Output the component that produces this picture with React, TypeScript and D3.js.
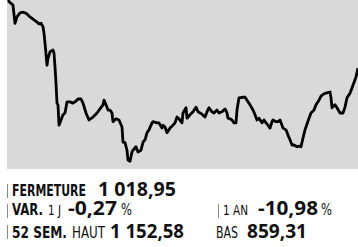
import * as d3 from 'd3';
import { useEffect, useRef } from 'react';

// séance (jours depuis le début de la période) et clôtures de l'indice
const days = [
  0, 1, 4, 5, 7, 9, 12, 15, 17, 19, 22, 25, 29, 31, 33, 35, 36, 37, 39, 40,
  42, 45, 46, 47, 48, 49, 50, 51, 55, 57, 59, 62, 65, 67, 69, 70, 73, 75, 78,
  81, 85, 89, 92, 95, 96, 98, 100, 102, 104, 105, 108, 111, 114, 115, 117,
  119, 120, 122, 124, 125, 128, 130, 133, 135, 137, 139, 141, 144, 145, 149,
  151, 154, 155, 157, 159, 162, 165, 167, 169, 171, 174, 175, 178, 179, 182,
  185, 188, 190, 194, 197, 199, 201, 204, 206, 209, 211, 214, 217, 219, 220,
  222, 224, 226, 228, 229, 231, 235, 237, 239, 242, 245, 247, 249, 251, 254,
  256, 258, 260, 262, 264, 265, 268, 270, 272, 274, 275, 278, 280, 282, 284,
  286, 289, 291, 293, 295, 297, 298, 301, 303, 306, 308, 311, 313, 316, 318,
  322, 323, 324, 327, 329, 332, 335, 337, 339, 342, 344, 347, 348, 350,
];
const closes = [
  1145, 1133, 1129, 1127, 1096, 1107, 1114, 1115, 1114, 1112, 1107, 1103,
  1098, 1095, 1096, 1090, 1079, 1062, 1024, 1036, 1047, 1050, 1045, 1021, 993,
  959, 956, 921, 939, 942, 961, 961, 959, 961, 964, 966, 966, 959, 942, 930,
  935, 942, 949, 956, 964, 956, 947, 947, 942, 927, 932, 930, 918, 892, 891,
  878, 861, 859, 875, 878, 884, 875, 878, 892, 896, 908, 913, 925, 927, 925,
  925, 916, 921, 918, 908, 916, 921, 925, 935, 932, 925, 942, 951, 933, 939,
  944, 952, 944, 940, 935, 944, 951, 944, 942, 947, 942, 944, 949, 942, 933,
  932, 930, 925, 925, 947, 968, 969, 969, 964, 956, 947, 939, 930, 933, 925,
  930, 925, 921, 916, 927, 930, 927, 927, 930, 921, 916, 913, 904, 896, 887,
  887, 884, 885, 884, 899, 913, 918, 933, 942, 947, 956, 964, 971, 975, 976,
  978, 968, 951, 956, 951, 942, 942, 952, 968, 976, 985, 999, 1004, 1018.95,
];

const close = 1018.95;
const var1d = -0.27;
const var1y = -10.98;
const high52 = 1152.58;
const low52 = 859.31;

const fr = d3.formatLocale({
  decimal: ',',
  thousands: '\u00a0',
  grouping: [3],
  currency: ['', ' €'],
  minus: '-',
});
const num = fr.format(',.2f');

const W = 358;
const H = 247;
const plot = { left: 7, top: 0, right: 358, bottom: 169 };

const labelFont = '"Liberation Sans Narrow", "DejaVu Sans Condensed", sans-serif';
const valueFont = '"Open Sans", "DejaVu Sans", sans-serif';

export default function App() {
  const ref = useRef<SVGSVGElement>(null);

  useEffect(() => {
    const svg = d3.select(ref.current);
    svg.selectAll('*').remove();

    const x = d3.scaleLinear().domain([0, 350]).range([8, plot.right]);
    const y = d3.scaleLinear().domain([845.8, 1136]).range([plot.bottom, plot.top]);

    svg
      .append('defs')
      .append('clipPath')
      .attr('id', 'plotClip')
      .append('rect')
      .attr('x', plot.left)
      .attr('y', plot.top)
      .attr('width', plot.right - plot.left)
      .attr('height', plot.bottom - plot.top);

    svg
      .append('rect')
      .attr('x', plot.left)
      .attr('y', plot.top)
      .attr('width', plot.right - plot.left)
      .attr('height', plot.bottom - plot.top)
      .style('fill', '#d9d9d9');

    const line = d3
      .line<number>()
      .x((_, i) => x(days[i]))
      .y((d) => y(d));

    svg
      .append('path')
      .datum(closes)
      .attr('clip-path', 'url(#plotClip)')
      .attr('d', line)
      .style('fill', 'none')
      .style('stroke', '#000')
      .style('stroke-width', 2.8)
      .style('stroke-linejoin', 'round');

    // petits séparateurs verticaux devant chaque ligne de chiffres
    const bars = [
      [7.5, 184, 198],
      [7.5, 204, 218],
      [218.5, 204, 218],
      [7.5, 225, 239],
    ];
    svg
      .selectAll('.sep')
      .data(bars)
      .enter()
      .append('line')
      .attr('class', 'sep')
      .attr('x1', (d) => d[0])
      .attr('x2', (d) => d[0])
      .attr('y1', (d) => d[1])
      .attr('y2', (d) => d[2])
      .style('stroke', '#8a8a8a')
      .style('stroke-width', 1);

    type T = [string, number, number, number, number, 'b' | 'r' | 'v'];
    const texts: T[] = [
      ['FERMETURE', 12, 196, 74, 15.5, 'b'],
      [num(close), 98, 196, 78, 20, 'v'],
      ['VAR.', 12, 215, 31, 15.5, 'b'],
      ['1 J', 48, 215, 13, 13.5, 'r'],
      [num(var1d), 68, 215, 49, 20, 'v'],
      ['%', 121, 215, 11, 15.5, 'r'],
      ['1 AN', 223, 215, 25, 13.5, 'r'],
      [num(var1y), 258, 215, 60, 20, 'v'],
      ['%', 321, 215, 11, 15.5, 'r'],
      ['52 SEM.', 12, 237.5, 55, 15.5, 'b'],
      ['HAUT', 72, 237.5, 33, 15, 'r'],
      [num(high52), 110, 237.5, 74, 20, 'v'],
      ['BAS', 216, 237.5, 22, 15, 'r'],
      [num(low52), 247, 237.5, 60, 20, 'v'],
    ];

    svg
      .selectAll('.lbl')
      .data(texts)
      .enter()
      .append('text')
      .attr('class', 'lbl')
      .attr('x', (d) => d[1])
      .attr('y', (d) => d[2])
      .attr('textLength', (d) => d[3])
      .attr('lengthAdjust', 'spacingAndGlyphs')
      .style('font-size', (d) => `${d[4]}px`)
      .style('font-family', (d) => (d[5] === 'v' ? valueFont : labelFont))
      .style('font-weight', (d) => (d[5] === 'r' ? 400 : 700))
      .style('fill', '#111')
      .text((d) => d[0]);
  }, []);

  return (
    <svg
      ref={ref}
      width={W}
      height={H}
      style={{ position: 'absolute', left: 0, top: 0, background: '#fff' }}
    />
  );
}
